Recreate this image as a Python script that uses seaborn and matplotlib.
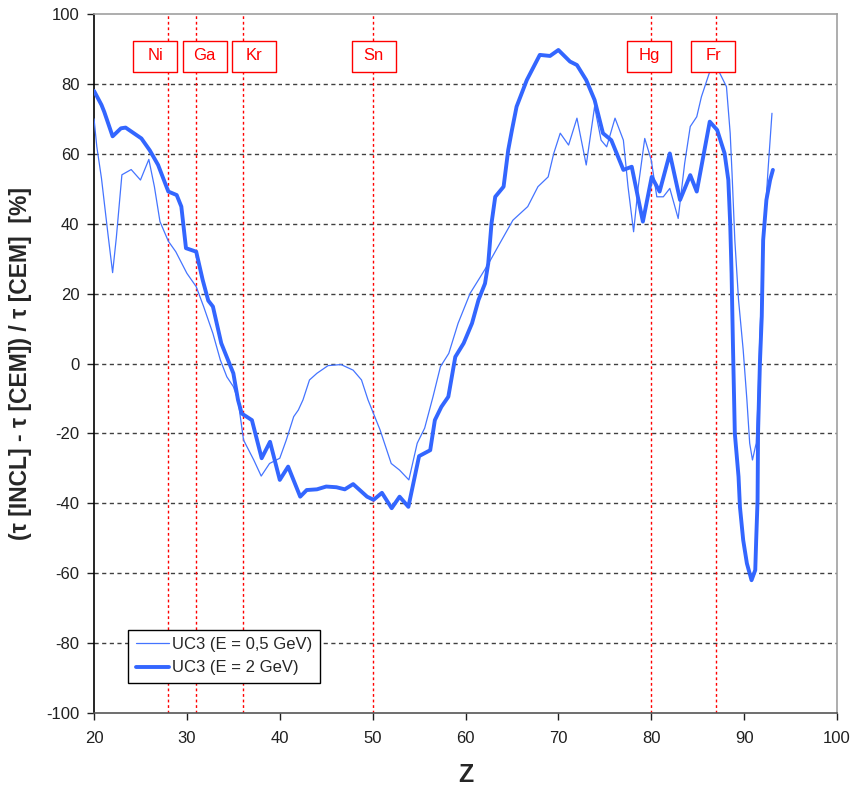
import matplotlib
matplotlib.use("Agg")
import matplotlib.pyplot as plt
from matplotlib.path import Path
import seaborn as sns
import pandas as pd

# E = 0.5 GeV (thin curve)
z_low = [20, 20.3, 20.8, 21.5, 22.0, 22.4, 23.0, 24.0, 25.0, 25.9, 26.5, 27.1, 28.0, 28.8,
         30.0, 31.0, 31.8, 32.8, 33.6, 34.3, 35.0, 35.5, 36.1, 37.2, 38.0, 38.9, 40.0, 40.7,
         41.5, 42.0, 42.5, 43.2, 44.0, 45.2, 46.6, 47.9, 48.8, 49.5, 50.8, 52.0, 52.9, 53.9,
         54.8, 55.6, 56.5, 57.3, 58.2, 59.2, 60.5, 61.6, 62.5, 63.7, 65.1, 66.7, 67.8, 68.9,
         69.5, 70.2, 71.1, 72.0, 73.0, 73.9, 74.6, 75.2, 76.1, 77.0, 77.5, 78.1, 78.6, 79.3,
         80.0, 80.6, 81.3, 82.0, 82.9, 83.6, 84.2, 84.9, 85.4, 86.3, 87.3, 88.1, 88.5, 88.7,
         89.0, 89.4, 89.9, 90.3, 90.6, 90.9, 91.3, 91.5, 91.7, 92.2, 92.6, 93.0]
v_low = [70, 62, 53, 37, 26, 36, 54, 55.5, 52.5, 58.4, 50.6, 40.6, 35, 32,
         25.8, 22, 16.3, 8.6, 1, -3.8, -6.6, -10.4, -21.9, -27.6, -32.2, -28.6, -27.1, -21.9,
         -15.2, -13.3, -10.4, -4.7, -2.8, -0.6, -0.3, -1.9, -4.7, -10.4, -19, -28.6, -30.5, -33.3,
         -22.8, -18.5, -9.5, -0.9, 2.9, 11.5, 20.1, 24.8, 28.7, 34.4, 41, 44.9, 50.6, 53.4,
         60.1, 65.9, 62.5, 70.2, 56.8, 73.5, 63.9, 62, 70.2, 63.9, 50.6, 37.7, 50.6, 64.4,
         58.2, 47.7, 47.7, 50.1, 41.5, 57.3, 67.8, 70.6, 76.3, 83.5, 83.5, 79.2, 65.9, 54.4,
         35.3, 18.2, 3.9, -10.4, -22.8, -27.6, -22.8, -10.4, 8.6, 40.1, 56.3, 71.6]

# E = 2 GeV (thick curve)
z_high = [20, 20.8, 21.1, 22.0, 22.9, 23.4, 25.1, 26.0, 26.9, 28.0, 28.9, 29.4, 29.9, 31.0,
          31.7, 32.3, 32.8, 33.7, 34.5, 35.0, 35.5, 35.9, 37.0, 38.05, 38.95, 40.0, 40.9,
          42.2, 42.9, 44.0, 45.0, 46.1, 47.0, 47.9, 49.4, 50.1, 51.0, 52.05, 52.9, 53.85,
          55.0, 56.2, 56.7, 57.4, 58.15, 58.9, 59.8, 60.7, 61.4, 62.1, 62.45, 62.8, 63.2,
          64.1, 64.6, 65.0, 65.5, 66.6, 68.0, 69.1, 70.0, 71.25, 72.0, 73.0, 73.9, 74.8,
          75.7, 77.0, 77.9, 79.1, 80.05, 80.9, 82.0, 83.1, 84.2, 84.9, 86.3, 87.1, 87.9,
          88.3, 88.5, 88.65, 88.8, 89.0, 89.4, 89.55, 89.9, 90.3, 90.8, 91.2, 91.3, 91.45,
          91.5, 91.7, 91.9, 92.05, 92.4, 92.8, 93.1]
v_high = [78, 74, 72, 65, 67.3, 67.5, 64.4, 61, 56.8, 49.2, 48.2, 44.9, 33, 32,
          23.9, 18, 16.3, 5.8, 0.5, -2.8, -10.4, -14.3, -16.2, -27.1, -22.4, -33.3, -29.5,
          -38.1, -36.2, -36, -35.2, -35.4, -36, -34.5, -38.1, -39, -37, -41.4, -38.1, -41,
          -26.5, -24.8, -16.2, -12.4, -9.5, 1.9, 5.8, 11.5, 18.2, 22.9, 28.7, 40.1, 47.7,
          50.6, 61.1, 66.8, 73.5, 81.1, 88.3, 88, 89.7, 86.4, 85.4, 81.1, 75.4, 65.9,
          63.9, 55.4, 56.3, 40.6, 53.4, 49.2, 60.1, 46.8, 53.9, 49.2, 69.2, 66.8, 60.1,
          52.5, 40.1, 25.8, 5, -20, -32.4, -41, -50.5, -57.2, -62, -59.1, -50.5, -39,
          -20, 0, 13.4, 35.3, 46.8, 52.5, 55.4]

# element markers
elements = ["Ni", "Ga", "Kr", "Sn", "Hg", "Fr"]
element_z = [28, 31, 36, 50, 80, 87]
label_z = [26.6, 31.9, 37.2, 50.1, 79.8, 86.7]
label_y = 88

sns.set_style("white")
plt.rcParams['font.family'] = ['Liberation Sans', 'DejaVu Sans']
plt.rcParams['axes.unicode_minus'] = False

fig = plt.figure(figsize=(8.58, 7.87), dpi=100)
ax = fig.add_axes([0.1096, 0.094, 0.8659, 0.8882])

blue = '#3366FF'

for y in range(-80, 100, 20):
    ax.axhline(y, color='#404040', lw=1, ls=(0, (3, 2.5)), zorder=1)
for z in element_z:
    ax.axvline(z, color='#FF0000', lw=1, ls=(0, (2, 2)), zorder=1)

df_low = pd.DataFrame({'Z': z_low, 'v': v_low})
df_high = pd.DataFrame({'Z': z_high, 'v': v_high})
sns.lineplot(data=df_low, x='Z', y='v', ax=ax, color='#4474FF', lw=0.9, sort=False,
             estimator=None, label='UC3 (E = 0,5 GeV)', zorder=3)
sns.lineplot(data=df_high, x='Z', y='v', ax=ax, color=blue, lw=2.8, sort=False,
             estimator=None, label='UC3 (E = 2 GeV)', zorder=4)

# element label boxes (fixed size, like the spreadsheet text boxes)
box = Path([(-1, -0.72), (1, -0.72), (1, 0.72), (-1, 0.72), (-1, -0.72)],
           [Path.MOVETO, Path.LINETO, Path.LINETO, Path.LINETO, Path.CLOSEPOLY])
ax.plot(label_z, [label_y] * len(label_z), ls='none', marker=box, ms=31,
        mfc='white', mec='#FF0000', mew=1, zorder=5)
for name, lz in zip(elements, label_z):
    ax.text(lz, label_y, name, color='#FF0000', fontsize=12, ha='center', va='center',
            zorder=6)

ax.set_xlim(20, 100)
ax.set_ylim(-100, 100)
ax.set_xticks(range(20, 101, 10))
ax.set_yticks(range(-100, 101, 20))
ax.tick_params(axis='both', labelsize=12, length=5, width=1, direction='out',
               colors='#202020', bottom=True, left=True)
ax.tick_params(axis='x', pad=8)
ax.tick_params(axis='y', pad=5.5)

ax.spines['left'].set_color('black')
ax.spines['bottom'].set_color('#555555')
ax.spines['top'].set_color('#A0A0A0')
ax.spines['right'].set_color('#A0A0A0')
for s in ax.spines.values():
    s.set_linewidth(1.2)

ax.set_xlabel('Z', fontsize=18, fontweight='bold', labelpad=12)
ax.set_ylabel('(τ [INCL] - τ [CEM]) / τ [CEM]  [%]', fontsize=16.5, fontweight='bold',
              labelpad=10)

leg = ax.legend(loc='lower left', bbox_to_anchor=(0.046, 0.043), fontsize=12,
                frameon=True, fancybox=False, framealpha=1, edgecolor='black',
                borderpad=0.45, handlelength=2.0, handletextpad=0.2,
                labelspacing=0.5, borderaxespad=0)
leg.get_frame().set_linewidth(1)

fig.savefig('out.png', dpi=100)
